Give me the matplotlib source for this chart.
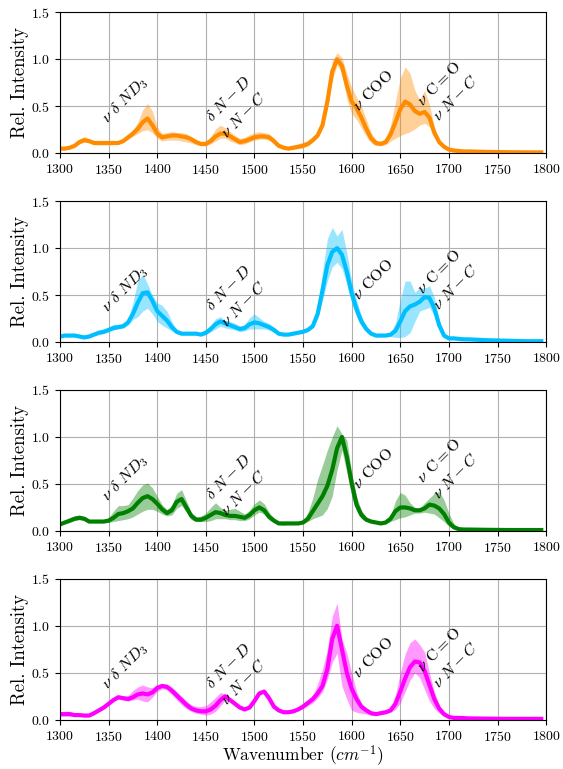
import matplotlib
matplotlib.use("Agg")
import matplotlib.pyplot as plt

plt.rcParams["font.family"] = "serif"
plt.rcParams["font.serif"] = ["cmr10"]
plt.rcParams["mathtext.fontset"] = "cm"
plt.rcParams["axes.formatter.use_mathtext"] = True

# wavenumber grid (cm^-1)
wavenumber = list(range(1300, 1721, 5)) + [1740, 1760, 1780, 1795]

# spectrum 1 (orange)
s1_mean = [0.05, 0.05, 0.06, 0.08, 0.12, 0.14, 0.13, 0.11, 0.11, 0.11,
           0.11, 0.11, 0.11, 0.13, 0.17, 0.21, 0.26, 0.33, 0.37, 0.30,
           0.21, 0.17, 0.18, 0.19, 0.19, 0.18, 0.17, 0.15, 0.12, 0.10,
           0.10, 0.13, 0.18, 0.21, 0.21, 0.18, 0.15, 0.12, 0.13, 0.15,
           0.17, 0.18, 0.18, 0.17, 0.13, 0.08, 0.06, 0.05, 0.06, 0.07,
           0.08, 0.10, 0.14, 0.19, 0.30, 0.55, 0.87, 1.00, 0.93, 0.72,
           0.55, 0.48, 0.38, 0.26, 0.16, 0.11, 0.10, 0.12, 0.20, 0.33,
           0.47, 0.55, 0.52, 0.45, 0.42, 0.44, 0.38, 0.22, 0.12, 0.07,
           0.04, 0.03, 0.025, 0.02, 0.02, 0.015, 0.012, 0.01, 0.01]
s1_low = [0.04, 0.04, 0.05, 0.07, 0.10, 0.12, 0.11, 0.09, 0.09, 0.09,
          0.09, 0.09, 0.10, 0.12, 0.15, 0.18, 0.21, 0.24, 0.25, 0.22,
          0.16, 0.13, 0.14, 0.14, 0.14, 0.13, 0.12, 0.11, 0.09, 0.08,
          0.08, 0.10, 0.13, 0.16, 0.16, 0.13, 0.11, 0.09, 0.10, 0.12,
          0.14, 0.15, 0.15, 0.14, 0.10, 0.06, 0.05, 0.04, 0.04, 0.05,
          0.06, 0.08, 0.12, 0.17, 0.27, 0.48, 0.78, 0.94, 0.85, 0.58,
          0.42, 0.36, 0.27, 0.18, 0.11, 0.08, 0.08, 0.09, 0.13, 0.16,
          0.19, 0.21, 0.23, 0.26, 0.30, 0.32, 0.28, 0.17, 0.10, 0.06,
          0.035, 0.025, 0.02, 0.015, 0.015, 0.012, 0.01, 0.008, 0.008]
s1_high = [0.06, 0.06, 0.07, 0.10, 0.15, 0.18, 0.15, 0.13, 0.13, 0.13,
           0.12, 0.12, 0.12, 0.15, 0.19, 0.25, 0.33, 0.46, 0.53, 0.45,
           0.28, 0.21, 0.22, 0.23, 0.22, 0.22, 0.21, 0.18, 0.14, 0.12,
           0.13, 0.18, 0.26, 0.30, 0.27, 0.23, 0.19, 0.16, 0.17, 0.20,
           0.22, 0.23, 0.22, 0.21, 0.16, 0.10, 0.07, 0.07, 0.08, 0.10,
           0.12, 0.13, 0.17, 0.22, 0.34, 0.62, 0.98, 1.07, 1.02, 0.85,
           0.70, 0.60, 0.50, 0.36, 0.22, 0.14, 0.12, 0.16, 0.30, 0.55,
           0.80, 0.92, 0.85, 0.67, 0.57, 0.67, 0.52, 0.28, 0.14, 0.08,
           0.05, 0.04, 0.035, 0.03, 0.025, 0.02, 0.015, 0.012, 0.012]

# spectrum 2 (blue)
s2_mean = [0.06, 0.07, 0.07, 0.07, 0.06, 0.05, 0.06, 0.08, 0.10, 0.11,
           0.13, 0.15, 0.16, 0.17, 0.21, 0.30, 0.42, 0.52, 0.53, 0.44,
           0.33, 0.28, 0.23, 0.16, 0.11, 0.09, 0.09, 0.09, 0.09, 0.08,
           0.10, 0.14, 0.19, 0.22, 0.20, 0.18, 0.16, 0.14, 0.15, 0.19,
           0.21, 0.20, 0.18, 0.16, 0.13, 0.09, 0.08, 0.08, 0.09, 0.10,
           0.11, 0.13, 0.17, 0.30, 0.55, 0.82, 0.96, 1.00, 0.93, 0.75,
           0.52, 0.35, 0.22, 0.14, 0.09, 0.07, 0.07, 0.07, 0.08, 0.12,
           0.22, 0.33, 0.38, 0.40, 0.43, 0.48, 0.47, 0.36, 0.18, 0.07,
           0.04, 0.04, 0.035, 0.03, 0.03, 0.02, 0.015, 0.01, 0.01]
s2_low = [0.05, 0.06, 0.06, 0.06, 0.05, 0.04, 0.05, 0.07, 0.08, 0.09,
          0.11, 0.13, 0.14, 0.15, 0.18, 0.24, 0.27, 0.33, 0.36, 0.30,
          0.22, 0.18, 0.15, 0.12, 0.09, 0.08, 0.08, 0.08, 0.08, 0.07,
          0.08, 0.11, 0.14, 0.17, 0.15, 0.14, 0.13, 0.11, 0.12, 0.14,
          0.14, 0.14, 0.14, 0.13, 0.10, 0.08, 0.07, 0.07, 0.08, 0.09,
          0.10, 0.12, 0.15, 0.25, 0.45, 0.65, 0.80, 0.85, 0.78, 0.62,
          0.42, 0.27, 0.17, 0.11, 0.08, 0.06, 0.06, 0.06, 0.06, 0.05,
          0.05, 0.06, 0.10, 0.22, 0.33, 0.35, 0.37, 0.28, 0.14, 0.05,
          0.035, 0.03, 0.03, 0.025, 0.025, 0.015, 0.012, 0.008, 0.008]
s2_high = [0.07, 0.08, 0.08, 0.08, 0.07, 0.06, 0.07, 0.10, 0.12, 0.14,
           0.16, 0.19, 0.19, 0.19, 0.25, 0.42, 0.65, 0.72, 0.62, 0.50,
           0.42, 0.39, 0.33, 0.22, 0.13, 0.10, 0.10, 0.10, 0.10, 0.09,
           0.12, 0.18, 0.25, 0.27, 0.23, 0.22, 0.20, 0.17, 0.19, 0.26,
           0.30, 0.26, 0.22, 0.20, 0.16, 0.11, 0.09, 0.09, 0.10, 0.11,
           0.12, 0.15, 0.21, 0.38, 0.75, 1.10, 1.22, 1.13, 1.20, 0.95,
           0.65, 0.45, 0.28, 0.17, 0.11, 0.08, 0.08, 0.08, 0.10, 0.20,
           0.45, 0.65, 0.65, 0.53, 0.58, 0.57, 0.60, 0.48, 0.24, 0.09,
           0.05, 0.045, 0.04, 0.035, 0.035, 0.025, 0.02, 0.012, 0.012]

# spectrum 3 (green)
s3_mean = [0.07, 0.09, 0.11, 0.13, 0.14, 0.13, 0.10, 0.10, 0.10, 0.10,
           0.11, 0.14, 0.18, 0.19, 0.21, 0.24, 0.30, 0.35, 0.37, 0.34,
           0.29, 0.23, 0.19, 0.22, 0.31, 0.34, 0.25, 0.16, 0.12, 0.12,
           0.14, 0.17, 0.20, 0.19, 0.17, 0.16, 0.16, 0.15, 0.14, 0.17,
           0.22, 0.25, 0.22, 0.15, 0.11, 0.08, 0.08, 0.08, 0.08, 0.08,
           0.09, 0.13, 0.21, 0.29, 0.37, 0.48, 0.65, 0.88, 1.00, 0.79,
           0.51, 0.28, 0.17, 0.12, 0.10, 0.09, 0.08, 0.09, 0.13, 0.21,
           0.25, 0.25, 0.24, 0.22, 0.22, 0.24, 0.28, 0.27, 0.24, 0.18,
           0.09, 0.04, 0.02, 0.015, 0.015, 0.012, 0.01, 0.01, 0.01]
s3_low = [0.06, 0.08, 0.09, 0.11, 0.12, 0.11, 0.09, 0.09, 0.09, 0.09,
          0.09, 0.10, 0.11, 0.12, 0.13, 0.15, 0.18, 0.21, 0.23, 0.23,
          0.21, 0.18, 0.16, 0.17, 0.24, 0.27, 0.20, 0.12, 0.10, 0.10,
          0.10, 0.11, 0.13, 0.13, 0.13, 0.12, 0.12, 0.11, 0.11, 0.13,
          0.17, 0.20, 0.18, 0.12, 0.09, 0.07, 0.06, 0.07, 0.07, 0.07,
          0.08, 0.10, 0.13, 0.15, 0.17, 0.24, 0.37, 0.65, 0.86, 0.62,
          0.37, 0.21, 0.13, 0.10, 0.09, 0.08, 0.07, 0.08, 0.10, 0.12,
          0.14, 0.15, 0.17, 0.19, 0.19, 0.20, 0.19, 0.18, 0.14, 0.10,
          0.05, 0.02, 0.015, 0.012, 0.012, 0.01, 0.008, 0.008, 0.008]
s3_high = [0.08, 0.10, 0.13, 0.16, 0.17, 0.15, 0.12, 0.11, 0.11, 0.12,
           0.14, 0.21, 0.27, 0.27, 0.28, 0.35, 0.43, 0.49, 0.51, 0.46,
           0.37, 0.28, 0.23, 0.27, 0.40, 0.44, 0.32, 0.20, 0.15, 0.16,
           0.19, 0.25, 0.30, 0.25, 0.22, 0.23, 0.24, 0.21, 0.18, 0.22,
           0.29, 0.33, 0.29, 0.20, 0.14, 0.10, 0.09, 0.09, 0.09, 0.09,
           0.10, 0.20, 0.35, 0.55, 0.70, 0.86, 1.00, 1.12, 1.03, 0.97,
           0.62, 0.37, 0.22, 0.15, 0.12, 0.10, 0.09, 0.10, 0.16, 0.32,
           0.41, 0.38, 0.30, 0.25, 0.24, 0.30, 0.35, 0.40, 0.42, 0.33,
           0.19, 0.08, 0.03, 0.02, 0.02, 0.015, 0.012, 0.012, 0.012]

# spectrum 4 (magenta)
s4_mean = [0.06, 0.06, 0.06, 0.05, 0.05, 0.045, 0.045, 0.07, 0.10, 0.13,
           0.17, 0.21, 0.24, 0.23, 0.22, 0.24, 0.27, 0.28, 0.27, 0.29,
           0.34, 0.36, 0.35, 0.31, 0.26, 0.21, 0.16, 0.12, 0.10, 0.09,
           0.09, 0.11, 0.15, 0.21, 0.25, 0.21, 0.17, 0.13, 0.11, 0.13,
           0.20, 0.28, 0.30, 0.23, 0.14, 0.10, 0.08, 0.08, 0.09, 0.11,
           0.14, 0.18, 0.22, 0.28, 0.36, 0.54, 0.86, 1.00, 0.75, 0.50,
           0.33, 0.22, 0.14, 0.10, 0.07, 0.06, 0.07, 0.08, 0.10, 0.17,
           0.30, 0.44, 0.56, 0.62, 0.61, 0.52, 0.37, 0.22, 0.12, 0.06,
           0.03, 0.02, 0.02, 0.018, 0.015, 0.012, 0.01, 0.01, 0.01]
s4_low = [0.04, 0.04, 0.04, 0.04, 0.04, 0.04, 0.04, 0.06, 0.09, 0.12,
          0.16, 0.20, 0.22, 0.21, 0.20, 0.21, 0.22, 0.20, 0.19, 0.24,
          0.30, 0.33, 0.32, 0.27, 0.21, 0.16, 0.12, 0.09, 0.07, 0.06,
          0.05, 0.06, 0.09, 0.15, 0.21, 0.19, 0.15, 0.12, 0.10, 0.12,
          0.19, 0.27, 0.29, 0.22, 0.13, 0.09, 0.07, 0.07, 0.08, 0.10,
          0.12, 0.15, 0.18, 0.23, 0.30, 0.43, 0.61, 0.71, 0.36, 0.22,
          0.10, 0.08, 0.07, 0.06, 0.05, 0.05, 0.06, 0.07, 0.08, 0.11,
          0.18, 0.30, 0.42, 0.50, 0.45, 0.32, 0.20, 0.12, 0.07, 0.04,
          0.025, 0.018, 0.015, 0.015, 0.012, 0.01, 0.008, 0.008, 0.008]
s4_high = [0.07, 0.09, 0.09, 0.07, 0.06, 0.05, 0.05, 0.08, 0.11, 0.14,
           0.18, 0.23, 0.25, 0.25, 0.26, 0.31, 0.35, 0.37, 0.35, 0.34,
           0.37, 0.38, 0.38, 0.35, 0.30, 0.25, 0.20, 0.16, 0.14, 0.14,
           0.15, 0.19, 0.24, 0.29, 0.27, 0.23, 0.18, 0.14, 0.12, 0.14,
           0.21, 0.29, 0.31, 0.24, 0.15, 0.11, 0.09, 0.09, 0.10, 0.13,
           0.17, 0.21, 0.26, 0.38, 0.54, 0.75, 1.10, 1.24, 0.86, 0.71,
           0.50, 0.30, 0.17, 0.12, 0.09, 0.07, 0.08, 0.09, 0.12, 0.26,
           0.50, 0.70, 0.82, 0.86, 0.80, 0.72, 0.50, 0.30, 0.15, 0.08,
           0.04, 0.025, 0.022, 0.02, 0.018, 0.015, 0.012, 0.012, 0.012]

spectra = [
    (s1_mean, s1_low, s1_high, "darkorange"),
    (s2_mean, s2_low, s2_high, "deepskyblue"),
    (s3_mean, s3_low, s3_high, "green"),
    (s4_mean, s4_low, s4_high, "magenta"),
]

# band assignments: label, anchor x, anchor y
bands = [
    (r"$\nu\ \delta\ ND_3$", 1352, 0.28),
    (r"$\delta\ N-D$" + "\n" + r"$\nu\ N-C$", 1474, 0.13),
    (r"$\nu$ COO", 1609, 0.42),
    (r"$\nu$ C$=$O" + "\n" + r"$\nu\ N-C$", 1692, 0.31),
]

fig, axes = plt.subplots(4, 1, figsize=(5.63, 7.69), dpi=100)
fig.subplots_adjust(left=0.1066, right=0.970, top=0.984, bottom=0.064,
                    hspace=0.339)

for ax, (mean, low, high, color) in zip(axes, spectra):
    ax.fill_between(wavenumber, low, high, color=color, alpha=0.4,
                    linewidth=0)
    ax.plot(wavenumber, mean, color=color, linewidth=3)
    for label, bx, by in bands:
        ax.text(bx, by, label, rotation=45, rotation_mode="anchor",
                ha="left", va="bottom", fontsize=11.5, linespacing=1.5)
    ax.set_xlim(1300, 1800)
    ax.set_ylim(0, 1.5)
    ax.set_xticks(range(1300, 1801, 50))
    ax.set_yticks([0, 0.5, 1.0, 1.5])
    ax.tick_params(labelsize=10)
    ax.grid(True)
    ax.set_axisbelow(True)
    ax.set_ylabel("Rel. Intensity", fontsize=13.5, labelpad=1.5)

axes[-1].set_xlabel(r"Wavenumber $(cm^{-1})$", fontsize=12.5, labelpad=0)

plt.savefig("out.png", dpi=100)
